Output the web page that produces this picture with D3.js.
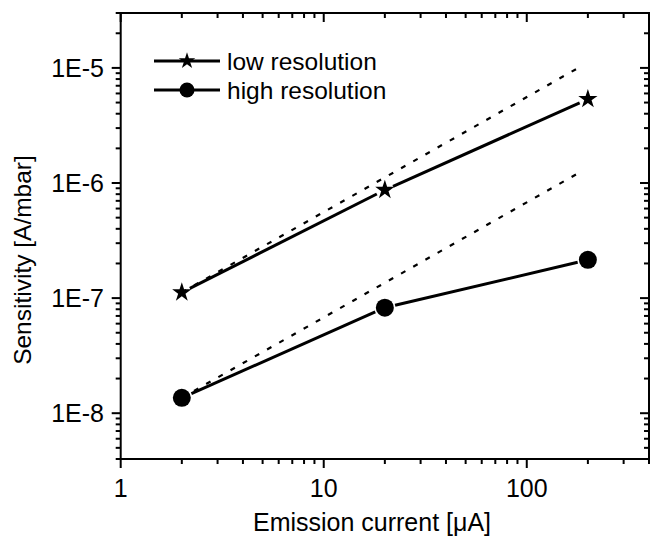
<!DOCTYPE html>
<html>
<head>
<meta charset="utf-8">
<script src="https://cdn.jsdelivr.net/npm/d3@7"></script>
<style>
  body { margin: 0; background: #fff; }
  svg { display: block; font-family: "Liberation Sans", Arial, sans-serif; }
</style>
</head>
<body>
<svg id="chart" width="650" height="537"></svg>
<script>
// emission current [uA]
const currents = [2, 20, 200];
const lowRes = [1.12e-7, 8.7e-7, 5.35e-6];
const highRes = [1.36e-8, 8.25e-8, 2.15e-7];
// dashed lines (ideal linear scaling), read at their ends
const idealX = [2, 190];
const lowIdeal = [1.12e-7, 1.06e-5];
const highIdeal = [1.36e-8, 1.29e-6];
const xTickLabels = ["1", "10", "100"];
const yTickLabels = ["1E-8", "1E-7", "1E-6", "1E-5"];

const svg = d3.select("#chart");
const plotLeft = 120.7, plotRight = 649, plotTop = 13, plotBottom = 459;

const x = d3.scaleLog().domain([1, 400]).range([plotLeft, plotRight]);
const y = d3.scaleLog().domain([4e-9, 3e-5]).range([plotBottom, plotTop]);

const fontSize = 25;

// minor tick values
function logTicks(scale) {
  const [a, b] = scale.domain();
  const out = [];
  for (let e = Math.floor(Math.log10(a)); e <= Math.ceil(Math.log10(b)); e++) {
    for (let m = 1; m < 10; m++) {
      const v = m * Math.pow(10, e);
      if (v >= a * 0.999 && v <= b * 1.001) out.push({ v: v, major: m === 1 });
    }
  }
  return out;
}

const axes = svg.append("g").attr("stroke", "#000").attr("stroke-width", 2);

// frame
axes.append("rect")
  .attr("x", plotLeft).attr("y", plotTop)
  .attr("width", plotRight - plotLeft).attr("height", plotBottom - plotTop)
  .attr("fill", "none");

// x ticks: bottom outward (down), top inward (down)
logTicks(x).forEach(t => {
  const len = t.major ? 9 : 5;
  const px = x(t.v);
  axes.append("line").attr("x1", px).attr("x2", px).attr("y1", plotBottom).attr("y2", plotBottom + len);
  axes.append("line").attr("x1", px).attr("x2", px).attr("y1", plotTop).attr("y2", plotTop + len);
});

// y ticks: left outward, right inward (both pointing left)
logTicks(y).forEach(t => {
  const len = t.major ? 9 : 5;
  const py = y(t.v);
  axes.append("line").attr("x1", plotLeft - len).attr("x2", plotLeft).attr("y1", py).attr("y2", py);
  axes.append("line").attr("x1", plotRight - len).attr("x2", plotRight).attr("y1", py).attr("y2", py);
});

// tick labels
svg.append("g").selectAll("text")
  .data(xTickLabels)
  .join("text")
  .attr("x", d => x(+d))
  .attr("y", 497)
  .attr("text-anchor", "middle")
  .attr("font-size", fontSize)
  .text(d => d);

svg.append("g").selectAll("text")
  .data(yTickLabels)
  .join("text")
  .attr("x", 104)
  .attr("y", d => y(+d))
  .attr("dy", "0.36em")
  .attr("text-anchor", "end")
  .attr("font-size", fontSize)
  .text(d => d);

// axis titles
svg.append("text")
  .attr("x", 372).attr("y", 531)
  .attr("text-anchor", "middle")
  .attr("font-size", fontSize)
  .text("Emission current [\u03bcA]");

svg.append("text")
  .attr("transform", "translate(31,260) rotate(-90)")
  .attr("text-anchor", "middle")
  .attr("font-size", 24.5)
  .text("Sensitivity [A/mbar]");

// dashed ideal lines
const plot = svg.append("g");
[lowIdeal, highIdeal].forEach(vals => {
  plot.append("line")
    .attr("x1", x(idealX[0])).attr("y1", y(vals[0]))
    .attr("x2", x(idealX[1])).attr("y2", y(vals[1]))
    .attr("stroke", "#000")
    .attr("stroke-width", 2.2)
    .attr("stroke-dasharray", "5,9");
});

// solid segments with gaps at markers
function drawSeries(vals, gap) {
  for (let i = 0; i < vals.length - 1; i++) {
    const x1 = x(currents[i]), y1 = y(vals[i]);
    const x2 = x(currents[i + 1]), y2 = y(vals[i + 1]);
    const len = Math.hypot(x2 - x1, y2 - y1);
    const ux = (x2 - x1) / len, uy = (y2 - y1) / len;
    plot.append("line")
      .attr("x1", x1 + ux * gap).attr("y1", y1 + uy * gap)
      .attr("x2", x2 - ux * gap).attr("y2", y2 - uy * gap)
      .attr("stroke", "#000")
      .attr("stroke-width", 3);
  }
}
drawSeries(lowRes, 9);
drawSeries(highRes, 10.5);

const star = d3.symbol().type(d3.symbolStar).size(115);

plot.selectAll("path.star")
  .data(lowRes)
  .join("path")
  .attr("class", "star")
  .attr("transform", (d, i) => `translate(${x(currents[i])},${y(d)})`)
  .attr("d", star)
  .attr("fill", "#000");

plot.selectAll("circle.dot")
  .data(highRes)
  .join("circle")
  .attr("class", "dot")
  .attr("cx", (d, i) => x(currents[i]))
  .attr("cy", d => y(d))
  .attr("r", 9)
  .attr("fill", "#000");

// legend
const legend = svg.append("g");
const legendItems = [
  { label: "low resolution", y: 61, marker: "star" },
  { label: "high resolution", y: 90, marker: "circle" }
];
legendItems.forEach(it => {
  legend.append("line")
    .attr("x1", 154).attr("x2", 220)
    .attr("y1", it.y).attr("y2", it.y)
    .attr("stroke", "#000").attr("stroke-width", 3);
  if (it.marker === "star") {
    legend.append("path")
      .attr("transform", `translate(187,${it.y})`)
      .attr("d", d3.symbol().type(d3.symbolStar).size(85))
      .attr("fill", "#000");
  } else {
    legend.append("circle")
      .attr("cx", 187).attr("cy", it.y).attr("r", 7.5)
      .attr("fill", "#000");
  }
  legend.append("text")
    .attr("x", 227).attr("y", it.y)
    .attr("dy", "0.36em")
    .attr("font-size", 24.5)
    .text(it.label);
});
</script>
</body>
</html>
